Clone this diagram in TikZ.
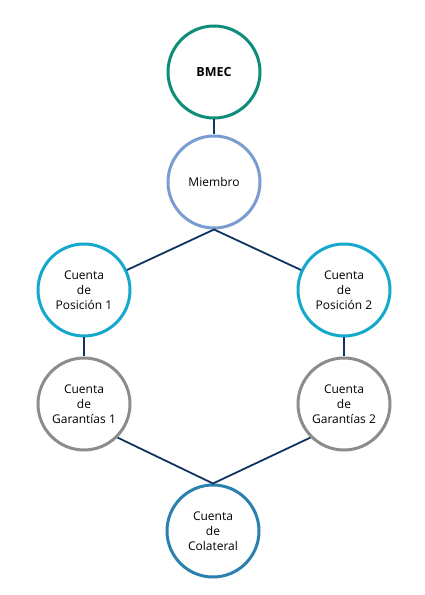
\documentclass[tikz,border=0pt]{standalone}
\usepackage{fontspec}
\setmainfont{Open Sans}
\definecolor{bmecgreen}{HTML}{0E8C7A}
\definecolor{memberblue}{HTML}{7A9DD1}
\definecolor{poscyan}{HTML}{14A9CC}
\definecolor{guargray}{HTML}{8C8C8C}
\definecolor{colblue}{HTML}{2A80AE}
\definecolor{linknavy}{HTML}{0F3460}
\begin{document}
\begin{tikzpicture}[x=1pt, y=1pt]
    % Define styles
    \tikzset{
        account/.style={circle, draw, line width=3pt, fill=white, minimum size=92pt, inner sep=0pt, align=center, font=\fontsize{12}{15}\selectfont},
        link/.style={draw=linknavy, line width=1.8pt}
    }

    \useasboundingbox (0,0) rectangle (425,595);

    % Top of the hierarchy
    \node[account, draw=bmecgreen, font=\fontsize{12.5}{15}\selectfont\bfseries] (bmec) at (214,523) {BMEC};
    \node[account, draw=memberblue] (miembro) at (214,413) {Miembro};

    % Position accounts
    \node[account, draw=poscyan] (pos1) at (84,305) {Cuenta\\ de\\ Posición 1};
    \node[account, draw=poscyan] (pos2) at (344,305) {Cuenta\\ de\\ Posición 2};

    % Guarantee accounts
    \node[account, draw=guargray] (gar1) at (84,191) {Cuenta\\ de\\ Garantías 1};
    \node[account, draw=guargray] (gar2) at (344,191) {Cuenta\\ de\\ Garantías 2};

    % Collateral account
    \node[account, draw=colblue] (colateral) at (213,64) {Cuenta\\ de\\ Colateral};

    % Links
    \draw[link] (bmec) -- (miembro);
    \draw[link] (miembro.south) -- (pos1);
    \draw[link] (miembro.south) -- (pos2);
    \draw[link] (pos1) -- (gar1);
    \draw[link] (pos2) -- (gar2);
    \draw[link] (gar1.-45) -- (colateral.north);
    \draw[link] (gar2.-135) -- (colateral.north);

\end{tikzpicture}
\end{document}
